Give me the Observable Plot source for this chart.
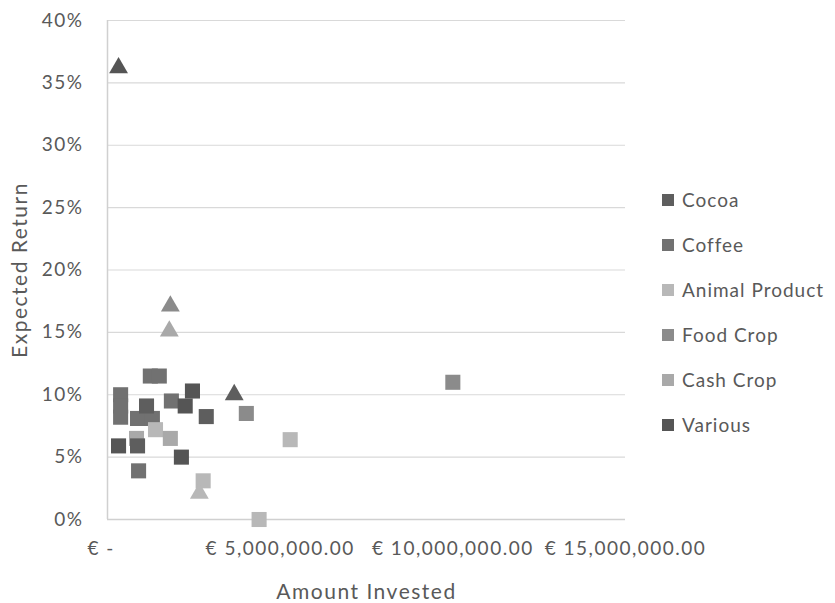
<!DOCTYPE html>
<html>
<head>
<meta charset="utf-8">
<script src="https://cdn.jsdelivr.net/npm/d3@7"></script>
<script src="https://cdn.jsdelivr.net/npm/@observablehq/plot@0.6"></script>
<style>
  html, body { margin: 0; padding: 0; background: #fff; }
  #wrap { position: relative; width: 835px; height: 603px; font-family: Lato, "Open Sans", sans-serif; }
  #legend { position: absolute; left: 662px; top: 177px; }
  .item { display: flex; align-items: center; height: 45px; font-size: 19px; letter-spacing: 1px; color: #595959; }
  .sw { width: 12px; height: 12px; margin-right: 8px; }
  #chart svg g[aria-label="x-axis tick label"] text,
  #chart svg g[aria-label="y-axis tick label"] text { letter-spacing: 1.5px; }
</style>
</head>
<body>
<div id="wrap"><div id="chart"></div><div id="legend"></div></div>
<script>
// Sector categories and their grey fills
const categories = ["Cocoa", "Coffee", "Animal Product", "Food Crop", "Cash Crop", "Various"];
const categoryColors = ["#5e5e5e", "#717171", "#b8b8b8", "#8b8b8b", "#a9a9a9", "#555555"];

// One entry per investment
const sector = [
  "Various", "Food Crop", "Cash Crop", "Cocoa", "Animal Product",
  "Coffee", "Coffee", "Coffee", "Coffee", "Coffee", "Coffee", "Coffee",
  "Cocoa", "Coffee", "Various", "Various", "Cocoa", "Food Crop",
  "Animal Product", "Various", "Cash Crop", "Cocoa", "Animal Product",
  "Cash Crop", "Various", "Coffee", "Animal Product", "Animal Product", "Food Crop"
];
const amountInvested = [
  320000, 1820000, 1790000, 3670000, 2660000,
  1240000, 1500000, 380000, 380000, 380000, 870000, 1300000,
  1130000, 1850000, 2460000, 2250000, 2860000, 4020000,
  5290000, 320000, 840000, 870000, 1390000,
  1820000, 2140000, 900000, 2770000, 4390000, 10000000
];
const expectedReturn = [
  0.362, 0.171, 0.151, 0.100, 0.021,
  0.115, 0.115, 0.100, 0.091, 0.082, 0.081, 0.081,
  0.091, 0.095, 0.103, 0.091, 0.0825, 0.085,
  0.064, 0.059, 0.065, 0.059, 0.072,
  0.065, 0.050, 0.039, 0.031, 0.000, 0.110
];
const marker = [
  "triangle", "triangle", "triangle", "triangle", "triangle",
  "square", "square", "square", "square", "square", "square", "square",
  "square", "square", "square", "square", "square", "square",
  "square", "square", "square", "square", "square",
  "square", "square", "square", "square", "square", "square"
];

// Axis ticks
const xTicks = [0, 5000000, 10000000, 15000000];
const xTickLabels = ["€ -\u00a0\u00a0", "€ 5,000,000.00", "€ 10,000,000.00", "€ 15,000,000.00"];
const yTicks = [0, 0.05, 0.10, 0.15, 0.20, 0.25, 0.30, 0.35, 0.40];

const points = sector.map((s, i) => ({
  sector: s, amount: amountInvested[i], ret: expectedReturn[i], marker: marker[i]
}));

const chart = Plot.plot({
  width: 835,
  height: 603,
  marginLeft: 107,
  marginRight: 210,
  marginTop: 20,
  marginBottom: 84,
  style: { fontFamily: "Lato, 'Open Sans', sans-serif", fontSize: "19px", color: "#595959", background: "#fff" },
  x: { domain: [0, 15000000], label: null },
  y: { domain: [0, 0.40], label: null },
  color: { domain: categories, range: categoryColors },
  marks: [
    Plot.gridY(yTicks, { stroke: "#d9d9d9", strokeOpacity: 1, strokeWidth: 1.2 }),
    Plot.ruleX([0], { stroke: "#d0d0d0", strokeWidth: 1.5 }),
    Plot.ruleY([0], { stroke: "#d0d0d0", strokeWidth: 1.5 }),
    Plot.axisX({ ticks: xTicks, tickFormat: (d) => xTickLabels[xTicks.indexOf(d)], tickSize: 0, tickPadding: 22, label: null, fill: "#595959" }),
    Plot.axisY({ ticks: yTicks, tickFormat: (d) => `${Math.round(d * 100)}%`, tickSize: 0, tickPadding: 24, label: null, fill: "#595959" }),
    Plot.dot(points.filter((d) => d.marker === "square"), {
      x: "amount", y: "ret", fill: "sector", symbol: "square", r: 8.5, stroke: null
    }),
    Plot.dot(points.filter((d) => d.marker === "triangle"), {
      x: "amount", y: "ret", fill: "sector", symbol: "triangle", r: 7, stroke: null
    }),
    Plot.text(["Amount Invested"], { frameAnchor: "bottom", dy: 79, fontSize: 21, fill: "#595959", style: "letter-spacing:1.5px" }),
    Plot.text(["Expected Return"], { frameAnchor: "left", textAnchor: "middle", dx: -87, rotate: -90, fontSize: 21, fill: "#595959" })
  ]
});
chart.querySelectorAll("text").forEach((t) => {
  if (t.textContent === "Amount Invested" || t.textContent === "Expected Return") t.style.letterSpacing = "1.5px";
});
document.getElementById("chart").appendChild(chart);

// Legend built from the same categories and colours
const legend = d3.select("#legend");
categories.forEach((c, i) => {
  const item = legend.append("div").attr("class", "item");
  item.append("div").attr("class", "sw").style("background", categoryColors[i]);
  item.append("span").text(c);
});
</script>
</body>
</html>
